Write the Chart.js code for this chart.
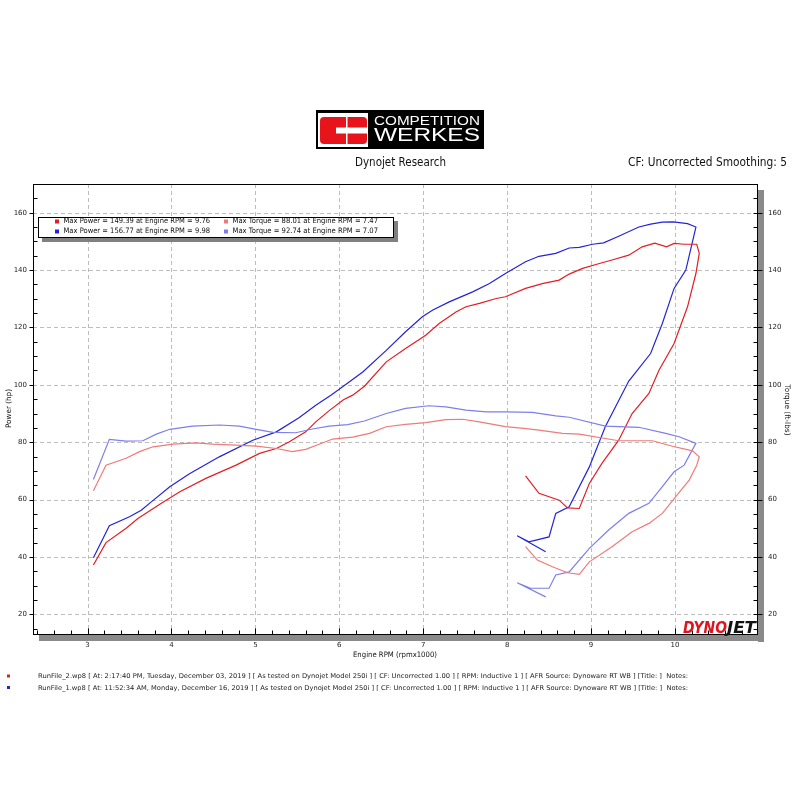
<!DOCTYPE html>
<html>
<head>
<meta charset="utf-8">
<script src="https://cdn.jsdelivr.net/npm/chart.js@4/dist/chart.umd.min.js"></script>
<style>
  html, body { margin: 0; padding: 0; background: #fff; }
  #wrap { position: relative; width: 800px; height: 800px; }
</style>
</head>
<body>
<div id="wrap"><canvas id="dyno" width="800" height="800"></canvas></div>
<script>
const rpmTicks = [3, 4, 5, 6, 7, 8, 9, 10];
const valueTicks = [20, 40, 60, 80, 100, 120, 140, 160];

// RunFile_2 (red) power, hp
const run2PowerRpm = [3.07, 3.22, 3.46, 3.6, 3.88, 4.1, 4.41, 4.77, 5.05, 5.25, 5.4, 5.6, 5.72, 5.88, 6.05, 6.16, 6.3, 6.56, 6.79, 7.03, 7.19, 7.39, 7.51, 7.67, 7.87, 7.98, 8.22, 8.42, 8.62, 8.74, 8.9, 9.1, 9.25, 9.45, 9.61, 9.76, 9.9, 9.99, 10.11, 10.26, 10.29, 10.25, 10.15, 9.99, 9.81, 9.69, 9.49, 9.33, 9.13, 8.98, 8.86, 8.72, 8.62, 8.38, 8.22];
const run2PowerHp = [37.2, 45.0, 50.0, 53.4, 58.7, 62.7, 67.4, 72.0, 76.1, 77.8, 80.1, 83.6, 87.1, 91.0, 94.8, 96.4, 99.5, 108.0, 112.7, 117.3, 121.4, 125.4, 127.2, 128.4, 130.1, 130.7, 133.6, 135.3, 136.5, 138.6, 140.6, 142.3, 143.5, 145.2, 148.1, 149.4, 148.1, 149.3, 149.0, 149.0, 145.8, 138.8, 127.2, 114.4, 105.1, 97.0, 90.0, 80.7, 72.6, 65.6, 56.9, 57.1, 59.8, 62.2, 68.3];

// RunFile_1 (blue) power, hp
const run1PowerRpm = [3.07, 3.26, 3.5, 3.64, 3.76, 3.98, 4.21, 4.57, 4.97, 5.25, 5.52, 5.72, 5.9, 6.04, 6.28, 6.56, 6.79, 6.99, 7.11, 7.31, 7.59, 7.79, 7.98, 8.22, 8.38, 8.58, 8.74, 8.86, 9.02, 9.15, 9.33, 9.57, 9.71, 9.85, 9.98, 10.15, 10.25, 10.13, 9.99, 9.85, 9.71, 9.45, 9.17, 8.98, 8.74, 8.58, 8.5, 8.26, 8.12, 8.46];
const run1PowerHp = [39.7, 50.9, 54.0, 56.3, 59.2, 64.5, 68.9, 74.9, 80.7, 83.6, 88.5, 92.9, 96.4, 99.3, 104.5, 112.0, 118.5, 123.7, 126.0, 128.9, 132.4, 135.3, 138.8, 142.9, 144.8, 145.8, 147.7, 147.9, 149.0, 149.5, 151.8, 155.0, 156.0, 156.7, 156.8, 156.2, 155.0, 140.0, 133.6, 121.4, 110.9, 101.3, 85.4, 71.4, 57.5, 55.2, 47.0, 45.3, 47.4, 41.8];

// RunFile_2 (red) torque, ft-lbs
const run2TorqueRpm = [3.07, 3.22, 3.46, 3.62, 3.78, 4.02, 4.29, 4.49, 4.77, 5.01, 5.25, 5.44, 5.6, 5.76, 5.92, 6.16, 6.36, 6.56, 6.79, 7.03, 7.27, 7.47, 7.67, 7.98, 8.2, 8.38, 8.66, 8.86, 9.33, 9.73, 9.97, 10.21, 10.29, 10.26, 10.17, 10.01, 9.85, 9.69, 9.49, 9.25, 8.98, 8.86, 8.72, 8.54, 8.36, 8.22];
const run2TorqueFtLb = [63.1, 72.0, 74.4, 76.7, 78.4, 79.3, 79.8, 79.3, 79.0, 78.6, 77.8, 76.7, 77.5, 79.3, 81.1, 81.8, 83.1, 85.4, 86.2, 86.8, 87.9, 88.0, 87.1, 85.4, 84.8, 84.2, 83.1, 82.8, 80.5, 80.5, 78.6, 77.0, 74.9, 72.0, 66.8, 61.0, 55.2, 51.7, 48.8, 43.6, 38.3, 33.9, 34.5, 36.6, 38.9, 43.6];

// RunFile_1 (blue) torque, ft-lbs
const run1TorqueRpm = [3.07, 3.26, 3.46, 3.66, 3.82, 3.98, 4.25, 4.57, 4.81, 5.01, 5.21, 5.48, 5.68, 5.88, 6.1, 6.3, 6.56, 6.79, 7.07, 7.27, 7.51, 7.75, 7.98, 8.3, 8.58, 8.74, 9.17, 9.57, 9.89, 10.05, 10.25, 10.11, 9.99, 9.85, 9.69, 9.45, 9.21, 8.98, 8.74, 8.58, 8.5, 8.28, 8.12, 8.46];
const run1TorqueFtLb = [67.0, 81.0, 80.4, 80.5, 82.8, 84.5, 85.6, 86.0, 85.6, 84.5, 83.4, 83.3, 84.6, 85.6, 86.1, 87.4, 90.0, 91.8, 92.7, 92.3, 91.2, 90.6, 90.6, 90.4, 89.2, 88.7, 85.6, 85.2, 83.1, 81.9, 79.6, 72.0, 69.7, 64.5, 58.7, 55.2, 49.4, 43.0, 34.8, 33.7, 29.1, 29.1, 31.0, 26.1];

const legendLabels = [
  "Max Power = 149.39 at Engine RPM = 9.76",
  "Max Torque = 88.01 at Engine RPM = 7.47",
  "Max Power = 156.77 at Engine RPM = 9.98",
  "Max Torque = 92.74 at Engine RPM = 7.07",
];
const footerLines = [
  "RunFile_2.wp8 [ At: 2:17:40 PM, Tuesday, December 03, 2019 ] [ As tested on Dynojet Model 250i ] [ CF: Uncorrected 1.00 ] [ RPM: Inductive 1 ] [ AFR Source: Dynoware RT WB ] [Title: ]  Notes:",
  "RunFile_1.wp8 [ At: 11:52:34 AM, Monday, December 16, 2019 ] [ As tested on Dynojet Model 250i ] [ CF: Uncorrected 1.00 ] [ RPM: Inductive 1 ] [ AFR Source: Dynoware RT WB ] [Title: ]  Notes:",
];

const RED = "rgb(226, 30, 36)";
const BLUE = "rgb(36, 36, 214)";
const RED_LIGHT = "rgb(240, 122, 122)";
const BLUE_LIGHT = "rgb(126, 126, 236)";
const UI_FONT = "'DejaVu Sans', sans-serif";

function pts(xs, ys) {
  return xs.map((x, i) => ({ x, y: ys[i] }));
}

function fitText(ctx, text, x, y, w, font, color, align) {
  ctx.save();
  ctx.font = font;
  ctx.fillStyle = color;
  ctx.textBaseline = "middle";
  ctx.textAlign = "left";
  const m = ctx.measureText(text).width;
  let left = x;
  if (align === "center") left = x - w / 2;
  else if (align === "right") left = x - w;
  ctx.translate(left, y);
  ctx.scale(w / m, 1);
  ctx.fillText(text, 0, 0);
  ctx.restore();
}

function line(ctx, x1, y1, x2, y2) {
  ctx.beginPath();
  ctx.moveTo(x1, y1);
  ctx.lineTo(x2, y2);
  ctx.stroke();
}

const decor = {
  id: "decor",
  beforeDraw(chart) {
    const { ctx, chartArea: a } = chart;
    ctx.save();
    ctx.fillStyle = "#fff";
    ctx.fillRect(0, 0, chart.width, chart.height);
    // drop shadow of the plot frame
    ctx.fillStyle = "#8a8a8a";
    ctx.fillRect(a.right, a.top + 6, 6, a.bottom - a.top + 1);
    ctx.fillRect(a.left + 6, a.bottom, a.right - a.left, 6);

    // header logo
    ctx.fillStyle = "#000";
    ctx.fillRect(316, 110, 168, 39);
    ctx.fillStyle = "#fff";
    ctx.fillRect(318, 113, 50, 34);
    ctx.fillStyle = "#e8141c";
    ctx.beginPath();
    ctx.roundRect(320, 117, 47, 27, 4);
    ctx.fill();
    ctx.fillStyle = "#fff";
    ctx.fillRect(336, 127.5, 32, 6);
    ctx.fillRect(346, 117, 1.5, 27);
    fitText(ctx, "COMPETITION", 374, 121.8, 106, `300 13px 'Liberation Sans', sans-serif`, "#fff", "left");
    fitText(ctx, "WERKES", 374, 136.2, 106, `300 19px 'Liberation Sans', sans-serif`, "#fff", "left");

    fitText(ctx, "Dynojet Research", 400.5, 163, 91, `11.5px ${UI_FONT}`, "#111", "center");
    fitText(ctx, "CF: Uncorrected Smoothing: 5", 628, 163, 159, `11.5px ${UI_FONT}`, "#111", "left");
    ctx.restore();
  },
  beforeDatasetsDraw(chart) {
    const { ctx, chartArea: a } = chart;
    const xs = chart.scales.x;
    const ys = chart.scales.y;
    ctx.save();
    ctx.strokeStyle = "#bdbdbd";
    ctx.lineWidth = 1;
    ctx.setLineDash([4, 3]);
    rpmTicks.forEach((v) => {
      const px = Math.round(xs.getPixelForValue(v)) + 0.5;
      line(ctx, px, a.top, px, a.bottom);
    });
    valueTicks.forEach((v) => {
      const py = Math.round(ys.getPixelForValue(v)) + 0.5;
      line(ctx, a.left, py, a.right, py);
    });
    ctx.restore();
  },
  afterDraw(chart) {
    const { ctx, chartArea: a } = chart;
    const xs = chart.scales.x;
    const ys = chart.scales.y;
    ctx.save();
    ctx.strokeStyle = "#000";
    ctx.lineWidth = 1;
    ctx.strokeRect(a.left + 0.5, a.top + 0.5, a.right - a.left - 1, a.bottom - a.top - 1);

    // minor and major tick marks
    const bx = a.bottom - 0.5;
    for (let v = 2.4; v < xs.max; v += 0.2) {
      const px = Math.round(xs.getPixelForValue(v)) + 0.5;
      const major = rpmTicks.some((t) => Math.abs(t - v) < 1e-6);
      line(ctx, px, bx, px, bx - (major ? 6 : 4));
    }
    const lx = a.left + 0.5;
    const rx = a.right - 0.5;
    for (let v = 15; v < ys.max; v += 5) {
      const py = Math.round(ys.getPixelForValue(v)) + 0.5;
      if (valueTicks.includes(v)) {
        line(ctx, lx - 4, py, lx, py);
        line(ctx, rx - 4, py, rx + 5, py);
      } else {
        line(ctx, lx, py, lx + 4, py);
        line(ctx, rx - 4, py, rx, py);
      }
    }

    // legend box
    ctx.fillStyle = "#808080";
    ctx.fillRect(42, 221, 356, 21);
    ctx.fillStyle = "#fff";
    ctx.fillRect(38, 217, 356, 21);
    ctx.strokeRect(38.5, 217.5, 355, 20);
    const swatches = [RED, RED_LIGHT, BLUE, BLUE_LIGHT];
    const cols = [{ sq: 55, tx: 63.5, w: 146.5 }, { sq: 224, tx: 232.5, w: 145.5 }];
    legendLabels.forEach((label, i) => {
      const c = cols[i % 2];
      const y = i < 2 ? 221.5 : 231.5;
      ctx.fillStyle = swatches[i];
      ctx.fillRect(c.sq, y - 2, 4, 4);
      fitText(ctx, label, c.tx, y, c.w, `7.5px ${UI_FONT}`, "#111", "left");
    });

    // axis titles
    fitText(ctx, "Engine RPM (rpmx1000)", 395, 655, 84, `7.5px ${UI_FONT}`, "#111", "center");
    ctx.save();
    ctx.translate(9, 408.5);
    ctx.rotate(-Math.PI / 2);
    fitText(ctx, "Power (hp)", 0, 0, 39, `7.5px ${UI_FONT}`, "#111", "center");
    ctx.restore();
    ctx.save();
    ctx.translate(787, 410);
    ctx.rotate(Math.PI / 2);
    fitText(ctx, "Torque (ft-lbs)", 0, 0, 51, `7.5px ${UI_FONT}`, "#111", "center");
    ctx.restore();

    // DYNOJET mark
    fitText(ctx, "DYNO", 683, 629.5, 44, `italic bold 15px ${UI_FONT}`, "#e0141e", "left");
    fitText(ctx, "JET", 727, 629.5, 29, `italic bold 15px ${UI_FONT}`, "#111", "left");

    // footer
    const footColors = [RED, BLUE];
    footerLines.forEach((t, i) => {
      const y = 676.5 + i * 11.5;
      ctx.fillStyle = footColors[i];
      ctx.fillRect(7, y - 2, 3, 3);
      fitText(ctx, t, 38, y, 650, `6.5px ${UI_FONT}`, "#222", "left");
    });
    ctx.restore();
  },
};

const tickFont = { family: "'DejaVu Sans', sans-serif", size: 7 };
const noGrid = { display: false, drawTicks: false, drawOnChartArea: false };

new Chart(document.getElementById("dyno"), {
  type: "scatter",
  data: {
    datasets: [
      { label: "Torque run 2", data: pts(run2TorqueRpm, run2TorqueFtLb), borderColor: RED_LIGHT, yAxisID: "yR" },
      { label: "Torque run 1", data: pts(run1TorqueRpm, run1TorqueFtLb), borderColor: BLUE_LIGHT, yAxisID: "yR" },
      { label: "Power run 2", data: pts(run2PowerRpm, run2PowerHp), borderColor: RED, yAxisID: "y" },
      { label: "Power run 1", data: pts(run1PowerRpm, run1PowerHp), borderColor: BLUE, yAxisID: "y" },
    ].map((d) => ({ ...d, showLine: true, borderWidth: 1.2, pointRadius: 0, tension: 0, fill: false })),
  },
  options: {
    responsive: false,
    devicePixelRatio: 1,
    animation: false,
    events: [],
    layout: { padding: { top: 184, left: 0, right: 0, bottom: 0 } },
    plugins: { legend: { display: false }, tooltip: { enabled: false } },
    scales: {
      x: {
        type: "linear",
        position: "bottom",
        min: 2.35,
        max: 10.99,
        afterBuildTicks: (s) => { s.ticks = rpmTicks.map((v) => ({ value: v })); },
        afterFit: (s) => { s.height = 165; },
        grid: noGrid,
        border: { display: false },
        ticks: { font: tickFont, color: "#222", padding: 6, maxRotation: 0, autoSkip: false },
      },
      y: {
        type: "linear",
        position: "left",
        min: 12.8,
        max: 170,
        afterBuildTicks: (s) => { s.ticks = valueTicks.map((v) => ({ value: v })); },
        afterFit: (s) => { s.width = 33; },
        grid: noGrid,
        border: { display: false },
        ticks: { font: tickFont, color: "#222", padding: 6 },
      },
      yR: {
        type: "linear",
        position: "right",
        min: 12.8,
        max: 170,
        afterBuildTicks: (s) => { s.ticks = valueTicks.map((v) => ({ value: v })); },
        afterFit: (s) => { s.width = 42; },
        grid: noGrid,
        border: { display: false },
        ticks: { font: tickFont, color: "#222", padding: 10 },
      },
    },
  },
  plugins: [decor],
});
</script>
</body>
</html>
